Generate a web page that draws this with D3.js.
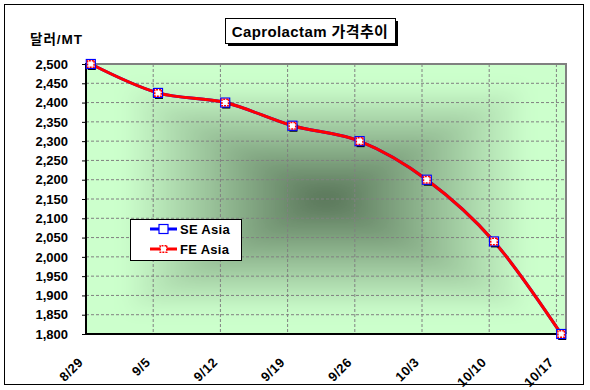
<!DOCTYPE html>
<html>
<head>
<meta charset="utf-8">
<script src="https://cdn.jsdelivr.net/npm/d3@7"></script>
<style>
  body { margin: 0; background: #fff; }
  text { font-family: "Liberation Sans", Arial, "Noto Sans CJK KR", sans-serif; font-weight: bold; }
</style>
</head>
<body>
<script>
// chart data
var weekLabels = ["8/29", "9/5", "9/12", "9/19", "9/26", "10/3", "10/10", "10/17"];
var seAsia = [2500, 2425, 2400, 2340, 2300, 2200, 2040, 1800];
var feAsia = [2500, 2425, 2400, 2340, 2300, 2200, 2040, 1800];
var seriesNames = ["SE Asia", "FE Asia"];
var yMin = 1800, yMax = 2500, yStep = 50;

var w = 590, h = 390;
// plot area edges
var pL = 86, pR = 566, pT = 64, pB = 334;

var parse = d3.timeParse("%Y/%m/%d");
var dates = weekLabels.map(function (d) { return parse("2008/" + d); });

var svg = d3.select("body").append("svg")
    .attr("width", w)
    .attr("height", h);

var x = d3.scaleTime()
    .domain([dates[0], d3.timeDay.offset(dates[dates.length - 1], 1)])
    .range([pL, pR]);
var y = d3.scaleLinear().domain([yMin, yMax]).range([pB, pT]);

// points sit in the middle of their day
function px(i) { return x(d3.timeHour.offset(dates[i], 12)); }

// outer chart border
svg.append("rect")
    .attr("x", 4.5).attr("y", 4.5)
    .attr("width", 579).attr("height", 380)
    .style("fill", "#fff").style("stroke", "#000");

// "from center" background: nested rects, light at edge, dark in middle
var defs = svg.append("defs");
defs.append("clipPath").attr("id", "plotclip")
    .append("rect").attr("x", pL).attr("y", pT)
    .attr("width", pR - pL).attr("height", pB - pT);
defs.append("filter").attr("id", "soft")
    .attr("x", "-10%").attr("y", "-10%").attr("width", "120%").attr("height", "120%")
    .append("feGaussianBlur").attr("stdDeviation", 9);

var cx0 = (pL + pR) / 2, cy0 = (pT + pB) / 2;
var hw = (pR - pL) / 2, hh = (pB - pT) / 2;
var shade = d3.interpolateRgb("#557055", "#ccffcc");
var steps = d3.range(80, 0, -1).map(function (k) { return k / 80; });
var bg = svg.append("g").attr("clip-path", "url(#plotclip)")
    .append("g").attr("filter", "url(#soft)");
bg.append("rect")
    .attr("x", pL - 40).attr("y", pT - 40)
    .attr("width", pR - pL + 80).attr("height", pB - pT + 80)
    .style("fill", "#ccffcc");
bg.selectAll("rect.step")
    .data(steps)
    .enter().append("rect")
    .attr("class", "step")
    .attr("x", function (t) { return cx0 - t * hw; })
    .attr("y", function (t) { return cy0 - t * hh; })
    .attr("width", function (t) { return 2 * t * hw; })
    .attr("height", function (t) { return 2 * t * hh; })
    .style("fill", function (t) { return shade(Math.min(1, t / 0.85)); });

// gridlines
var yTicks = d3.range(yMin, yMax + 1, yStep);
svg.append("g").selectAll("line")
    .data(yTicks.slice(1))
    .enter().append("line")
    .attr("x1", pL).attr("x2", pR)
    .attr("y1", function (d) { return y(d); })
    .attr("y2", function (d) { return y(d); })
    .style("stroke", "#808080")
    .style("stroke-dasharray", "3,2");
svg.append("g").selectAll("line")
    .data(dates.slice(1))
    .enter().append("line")
    .attr("x1", function (d) { return x(d); })
    .attr("x2", function (d) { return x(d); })
    .attr("y1", pT).attr("y2", pB)
    .style("stroke", "#808080")
    .style("stroke-dasharray", "3,2");

// plot border: gray top/right, black axes
svg.append("path")
    .attr("d", "M" + pL + "," + pT + "H" + pR + "V" + pB)
    .style("fill", "none").style("stroke", "#808080").style("stroke-width", 2);

var yAxis = d3.axisLeft(y)
    .tickValues(yTicks)
    .tickSize(4)
    .tickPadding(14)
    .tickFormat(d3.format(","));
svg.append("g")
    .attr("transform", "translate(" + pL + ",0)")
    .call(yAxis)
    .call(function (g) {
        g.select(".domain").remove();
        g.selectAll("line").style("stroke", "#000");
        g.selectAll("text").style("font-size", "13px").style("fill", "#000");
    });

svg.append("line")
    .attr("x1", pL).attr("x2", pL).attr("y1", pT - 1).attr("y2", pB + 1)
    .style("stroke", "#000").style("stroke-width", 2);
svg.append("line")
    .attr("x1", pL).attr("x2", pR).attr("y1", pB).attr("y2", pB)
    .style("stroke", "#000").style("stroke-width", 2);

// x labels, rotated
svg.append("g").selectAll("text")
    .data(weekLabels)
    .enter().append("text")
    .attr("transform", function (d, i) {
        return "translate(" + (x(dates[i]) - 2) + "," + 363 + ") rotate(-45)";
    })
    .attr("text-anchor", "end")
    .style("font-size", "13px")
    .style("letter-spacing", "0.5px")
    .text(function (d) { return d; });

// lines
var line = d3.line()
    .x(function (d, i) { return px(i); })
    .y(function (d) { return y(d); })
    .curve(d3.curveCardinal.tension(0));

svg.append("path").datum(seAsia)
    .attr("d", line)
    .style("fill", "none").style("stroke", "#0000ff").style("stroke-width", 3);
svg.append("path").datum(feAsia)
    .attr("d", line)
    .style("fill", "none").style("stroke", "#ff0000").style("stroke-width", 3);

// marker shadows
svg.append("g").selectAll("rect")
    .data(seAsia)
    .enter().append("rect")
    .attr("x", function (d, i) { return px(i) - 3; })
    .attr("y", function (d) { return y(d) - 2; })
    .attr("width", 8).attr("height", 8)
    .style("fill", "#000");

function squareMarker(g, cx, cy) {
    g.append("rect")
        .attr("x", cx - 4.5).attr("y", cy - 4.5)
        .attr("width", 9).attr("height", 9)
        .style("fill", "#fff").style("stroke", "#0000ff").style("stroke-width", 1.2);
}
function diamondMarker(g, cx, cy) {
    g.append("path")
        .attr("d", d3.symbol().type(d3.symbolDiamond2).size(55)())
        .attr("transform", "translate(" + cx + "," + cy + ") rotate(45)")
        .style("fill", "#fff").style("stroke", "#ff0000").style("stroke-width", 1.5)
        .style("stroke-dasharray", "2,1");
}

var mk = svg.append("g");
seAsia.forEach(function (d, i) { squareMarker(mk, px(i), y(d)); });
feAsia.forEach(function (d, i) { diamondMarker(mk, px(i), y(d)); });

// legend
var lg = svg.append("g");
lg.append("rect")
    .attr("x", 130.5).attr("y", 219.5)
    .attr("width", 111).attr("height", 41)
    .style("fill", "#fff").style("stroke", "#000");
var rows = [
    { name: seriesNames[0], color: "#0000ff", y: 229, marker: squareMarker },
    { name: seriesNames[1], color: "#ff0000", y: 249, marker: diamondMarker }
];
rows.forEach(function (r) {
    lg.append("line")
        .attr("x1", 150).attr("x2", 177).attr("y1", r.y).attr("y2", r.y)
        .style("stroke", r.color).style("stroke-width", 3);
    r.marker(lg, 163.5, r.y);
    lg.append("text")
        .attr("x", 180).attr("y", r.y + 5)
        .style("font-size", "13px")
        .style("letter-spacing", "0.3px")
        .text(r.name);
});

// title box with shadow
svg.append("rect")
    .attr("x", 228).attr("y", 21)
    .attr("width", 170).attr("height", 25)
    .style("fill", "#000");
svg.append("rect")
    .attr("x", 225.5).attr("y", 18.5)
    .attr("width", 170).attr("height", 25)
    .style("fill", "#fff").style("stroke", "#000");
svg.append("text")
    .attr("x", 310).attr("y", 36.5)
    .attr("text-anchor", "middle")
    .style("font-size", "15px")
    .style("letter-spacing", "0.4px")
    .text("Caprolactam 가격추이");

// y axis unit
svg.append("text")
    .attr("x", 30).attr("y", 44)
    .style("font-size", "13.5px")
    .style("letter-spacing", "1px")
    .text("달러/MT");
</script>
</body>
</html>
